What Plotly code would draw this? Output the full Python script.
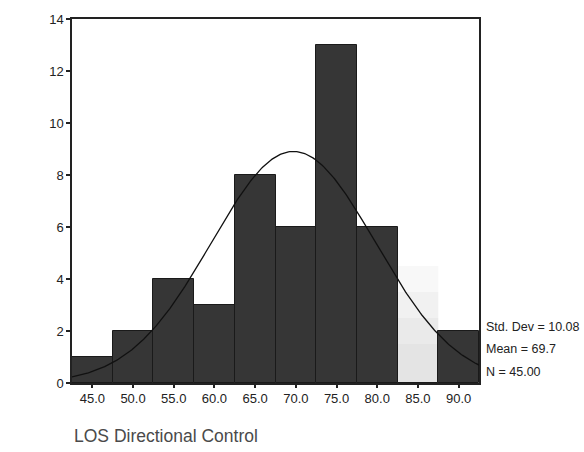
import numpy as np
import plotly.graph_objects as go

# Histogram of LOS Directional Control scores (bin width 5)
bin_centers = [45, 50, 55, 60, 65, 70, 75, 80, 85, 90]
counts = [1, 2, 4, 3, 8, 6, 13, 6, 0, 2]
tick_labels = ["45.0", "50.0", "55.0", "60.0", "65.0", "70.0", "75.0", "80.0", "85.0", "90.0"]
y_ticks = [0, 2, 4, 6, 8, 10, 12, 14]

std_dev = 10.08
mean = 69.7
n = 45
bin_width = 5

# Fitted normal curve scaled to the histogram counts
xs = np.linspace(42.5, 92.5, 300)
ys = n * bin_width / (std_dev * np.sqrt(2 * np.pi)) * np.exp(-0.5 * ((xs - mean) / std_dev) ** 2)

fig = go.Figure()
fig.add_trace(go.Bar(
    x=bin_centers, y=counts, width=bin_width,
    marker=dict(color="#363636", line=dict(color="#1a1a1a", width=1)),
    hoverinfo="skip",
))
fig.add_trace(go.Scatter(
    x=xs, y=ys, mode="lines",
    line=dict(color="#111111", width=1.3),
    hoverinfo="skip",
))

# faint grey toner haze in the empty 85 bin
for y1, op in [(4.5, 0.06), (3.5, 0.06), (2.5, 0.06), (1.5, 0.06)]:
    fig.add_shape(type="rect", x0=82.5, x1=87.5, y0=0, y1=y1, xref="x", yref="y",
                  fillcolor=f"rgba(140,140,140,{op})", line=dict(width=0), layer="below")

font = "Arial, Liberation Sans, sans-serif"
stats = [f"Std. Dev = {std_dev:.2f}", f"Mean = {mean}", f"N = {n:.2f}"]
stat_y = [2.16, 1.29, 0.42]
for txt, yy in zip(stats, stat_y):
    fig.add_annotation(
        x=1.012, xref="paper", y=yy, yref="y", text=txt, showarrow=False,
        xanchor="left", yanchor="middle",
        font=dict(family=font, size=12.5, color="#222222"),
    )

fig.add_annotation(
    x=0.0, xref="paper", y=-0.146, yref="paper", text="LOS Directional Control",
    showarrow=False, xanchor="left", yanchor="middle",
    font=dict(family=font, size=17.5, color="#4a4a4a"),
)

fig.update_layout(
    width=584, height=452,
    margin=dict(l=72, r=105, t=14, b=69),
    paper_bgcolor="white", plot_bgcolor="white",
    showlegend=False, bargap=0,
    font=dict(family=font, size=13, color="#222222"),
)
fig.update_xaxes(
    range=[42.5, 92.5], tickvals=bin_centers, ticktext=tick_labels,
    showline=True, linecolor="#222222", linewidth=1.5, mirror=True,
    ticks="outside", ticklen=3, tickwidth=2, tickcolor="#222222",
    showgrid=False, zeroline=False, fixedrange=True,
    tickfont=dict(family=font, size=13, color="#222222"),
)
fig.update_yaxes(
    range=[0, 14], tickvals=y_ticks,
    showline=True, linecolor="#222222", linewidth=1.5, mirror=True,
    ticks="outside", ticklen=4, tickwidth=2, tickcolor="#222222",
    showgrid=False, zeroline=False, fixedrange=True,
    tickfont=dict(family=font, size=13, color="#222222"),
)

fig.write_html("out.html")
